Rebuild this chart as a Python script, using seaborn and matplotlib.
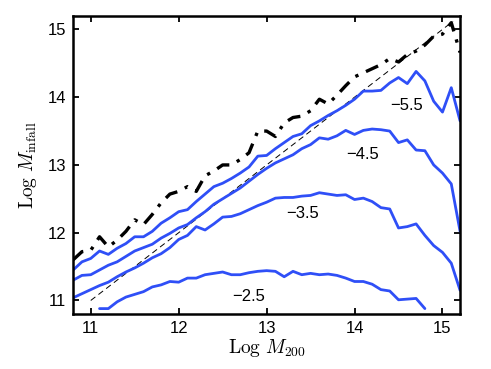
import matplotlib
matplotlib.use("Agg")
import matplotlib.pyplot as plt
import seaborn as sns
import pandas as pd

# log M200 grid
log_m200 = [10.8, 10.9, 11.0, 11.1, 11.2, 11.3, 11.4, 11.5, 11.6, 11.7, 11.8, 11.9,
            12.0, 12.1, 12.2, 12.3, 12.4, 12.5, 12.6, 12.7, 12.8, 12.9, 13.0, 13.1,
            13.2, 13.3, 13.4, 13.5, 13.6, 13.7, 13.8, 13.9, 14.0, 14.1, 14.2, 14.3,
            14.4, 14.5, 14.6, 14.7, 14.8, 14.9, 15.0, 15.1, 15.2]

# all haloes (dash-dot)
infall_all = [11.60, 11.72, 11.74, 11.94, 11.79, 11.89, 12.02, 12.19, 12.12, 12.27, 12.44, 12.57,
              12.61, 12.68, 12.61, 12.84, 12.91, 13.00, 13.00, 13.08, 13.18, 13.50, 13.50, 13.42,
              13.62, 13.70, 13.72, 13.80, 13.97, 13.90, 14.03, 14.17, 14.30, 14.36, 14.42, 14.48,
              14.57, 14.52, 14.63, 14.68, 14.77, 14.90, 14.93, 15.10, 14.66]

infall_m55 = [11.45, 11.57, 11.62, 11.73, 11.68, 11.77, 11.84, 11.94, 11.94, 12.02, 12.14, 12.22,
              12.31, 12.34, 12.46, 12.57, 12.68, 12.73, 12.80, 12.88, 12.97, 13.13, 13.14, 13.24,
              13.33, 13.42, 13.46, 13.58, 13.65, 13.73, 13.80, 13.88, 13.97, 14.09, 14.09, 14.10,
              14.21, 14.29, 14.20, 14.38, 14.24, 13.94, 13.78, 14.14, 13.65]

infall_m45 = [11.30, 11.37, 11.38, 11.45, 11.52, 11.57, 11.65, 11.73, 11.78, 11.83, 11.92, 11.99,
              12.07, 12.12, 12.22, 12.31, 12.42, 12.50, 12.58, 12.66, 12.76, 12.86, 12.95, 13.03,
              13.09, 13.15, 13.24, 13.30, 13.40, 13.38, 13.43, 13.51, 13.45, 13.51, 13.53, 13.52,
              13.50, 13.33, 13.37, 13.22, 13.21, 13.00, 12.88, 12.72, 12.02]

infall_m35 = [11.04, 11.10, 11.16, 11.22, 11.27, 11.35, 11.42, 11.48, 11.55, 11.63, 11.69, 11.78,
              11.90, 11.96, 12.09, 12.04, 12.13, 12.23, 12.24, 12.28, 12.34, 12.40, 12.45, 12.51,
              12.52, 12.52, 12.54, 12.55, 12.59, 12.57, 12.55, 12.56, 12.49, 12.51, 12.46, 12.37,
              12.35, 12.07, 12.09, 12.13, 11.96, 11.81, 11.71, 11.55, 11.15]

log_m200_m25 = [11.1, 11.2, 11.3, 11.4, 11.5, 11.6, 11.7, 11.8, 11.9, 12.0, 12.1, 12.2, 12.3,
                12.4, 12.5, 12.6, 12.7, 12.8, 12.9, 13.0, 13.1, 13.2, 13.3, 13.4, 13.5, 13.6,
                13.7, 13.8, 13.9, 14.0, 14.1, 14.2, 14.3, 14.4, 14.5, 14.6, 14.7, 14.8]
infall_m25 = [10.88, 10.88, 10.98, 11.05, 11.09, 11.13, 11.20, 11.23, 11.28, 11.27, 11.33, 11.33, 11.38,
              11.40, 11.42, 11.38, 11.38, 11.41, 11.43, 11.44, 11.43, 11.35, 11.43, 11.38, 11.40, 11.38,
              11.39, 11.37, 11.33, 11.28, 11.28, 11.24, 11.16, 11.14, 11.01, 11.02, 11.03, 10.88]

# one-to-one line
diag = [11.0, 15.12]

labels = ['\u22125.5', '\u22124.5', '\u22123.5', '\u22122.5']
label_x = [14.59, 14.09, 13.41, 12.79]
label_y = [13.87, 13.15, 12.29, 11.06]

sns.set_style("ticks")
plt.rcParams['font.family'] = ['Liberation Sans', 'DejaVu Sans']
plt.rcParams['mathtext.fontset'] = 'cm'
for k in ['axes.edgecolor', 'xtick.color', 'ytick.color', 'text.color', 'axes.labelcolor']:
    plt.rcParams[k] = 'black'

blue = '#2f4ff7'

fig = plt.figure(figsize=(4.91, 3.69), dpi=100)
ax = fig.add_axes([0.149, 0.149, 0.788, 0.808])

sns.lineplot(x=diag, y=diag, ax=ax, color='black', lw=0.7, linestyle=(0, (6, 4)))
sns.lineplot(x=log_m200, y=infall_all, ax=ax, color='black', lw=2.4,
             linestyle=(0, (4, 2.5, 1, 2.5)))
for ys in [infall_m55, infall_m45, infall_m35]:
    sns.lineplot(x=log_m200, y=ys, ax=ax, color=blue, lw=2.0)
sns.lineplot(x=log_m200_m25, y=infall_m25, ax=ax, color=blue, lw=2.0)

for t, tx, ty in zip(labels, label_x, label_y):
    ax.text(tx, ty, t, ha='center', va='center', fontsize=12)

ax.set_xlim(10.8, 15.2)
ax.set_ylim(10.8, 15.2)
ax.set_xticks([11, 12, 13, 14, 15])
ax.set_yticks([11, 12, 13, 14, 15])
ax.tick_params(direction='in', top=True, right=True, length=4, width=1.3, labelsize=12, pad=5)
for s in ax.spines.values():
    s.set_linewidth(1.8)
ax.set_xlabel(r'$\mathrm{Log}\ M_{200}$', fontsize=14, labelpad=1)
ax.set_ylabel(r'$\mathrm{Log}\ M_{\rm infall}$', fontsize=14, labelpad=6)

fig.savefig('out.png', dpi=100)
